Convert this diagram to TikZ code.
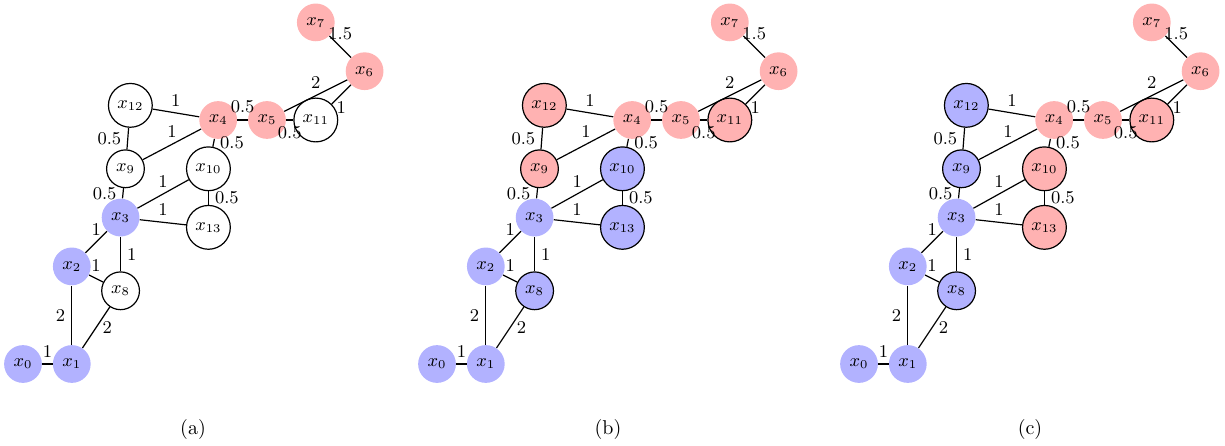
\documentclass[tikz,border=0pt]{standalone}
\usepackage{tikz}
\tikzset{
  vb/.style={circle,fill=blue!30,minimum size=18pt,inner sep=3pt,font=\small},
  vr/.style={vb,fill=red!30},
  vw/.style={vb,draw,semithick},
  eg/.style={semithick},
  wt/.style={midway,font=\small,inner sep=3pt},
}
% one weighted graph; #1 name prefix, #2 x shift, #3--#8 fills of x8..x13
\newcommand{\wgraph}[8]{%
\begin{scope}[shift={(#2,0)}]
\node[vb] (#1x0) at (0,0) {$x_0$};
\node[vb] (#1x1) at (1,0) {$x_1$};
\node[vb] (#1x2) at (1,2) {$x_2$};
\node[vb] (#1x3) at (2,3) {$x_3$};
\node[vr] (#1x4) at (4,5) {$x_4$};
\node[vr] (#1x5) at (5,5) {$x_5$};
\node[vr] (#1x6) at (7,6) {$x_6$};
\node[vr] (#1x7) at (6,7) {$x_7$};
\node[vw,fill=#3] (#1x8) at (2,1.5) {$x_8$};
\node[vw,fill=#4] (#1x9) at (2.1,4) {$x_9$};
\node[vw,fill=#5] (#1x10) at (3.8,4) {$x_{10}$};
\node[vw,fill=#6] (#1x11) at (6,5) {$x_{11}$};
\node[vw,fill=#7] (#1x12) at (2.2,5.3) {$x_{12}$};
\node[vw,fill=#8] (#1x13) at (3.8,2.8) {$x_{13}$};
\draw[eg] (#1x0) -- node[wt,above]{1} (#1x1);
\draw[eg] (#1x1) -- node[wt,left]{2} (#1x2);
\draw[eg] (#1x1) -- node[wt,right]{2} (#1x8);
\draw[eg] (#1x2) -- node[wt,above]{1} (#1x8);
\draw[eg] (#1x2) -- node[wt,above]{1} (#1x3);
\draw[eg] (#1x3) -- node[wt,right]{1} (#1x8);
\draw[eg] (#1x3) -- node[wt,left]{0.5} (#1x9);
\draw[eg] (#1x3) -- node[wt,above]{1} (#1x10);
\draw[eg] (#1x3) -- node[wt,above]{1} (#1x13);
\draw[eg] (#1x10) -- node[wt,right]{0.5} (#1x13);
\draw[eg] (#1x9) -- node[wt,left]{0.5} (#1x12);
\draw[eg] (#1x9) -- node[wt,above]{1} (#1x4);
\draw[eg] (#1x12) -- node[wt,above]{1} (#1x4);
\draw[eg] (#1x4) -- node[wt,right]{0.5} (#1x10);
\draw[eg] (#1x4) -- node[wt,above]{0.5} (#1x5);
\draw[eg] (#1x5) -- node[wt,below]{0.5} (#1x11);
\draw[eg] (#1x5) -- node[wt,above]{2} (#1x6);
\draw[eg] (#1x11) -- node[wt,below]{1} (#1x6);
\draw[eg] (#1x7) -- node[wt,above]{1.5} (#1x6);
\end{scope}}
\begin{document}
\begin{tikzpicture}[x=24.4pt,y=24.4pt]
\useasboundingbox (-0.471,-1.660) rectangle (24.631,7.459);
\wgraph{a}{0}{white}{white}{white}{white}{white}{white}
\wgraph{b}{8.484}{blue!30}{red!30}{blue!30}{red!30}{red!30}{blue!30}
\wgraph{c}{17.131}{blue!30}{blue!30}{red!30}{red!30}{blue!30}{red!30}
\node (capa) at (3.484,-1.332) {(a)};
\node (capb) at (11.988,-1.332) {(b)};
\node (capc) at (20.635,-1.332) {(c)};
\end{tikzpicture}
\end{document}
